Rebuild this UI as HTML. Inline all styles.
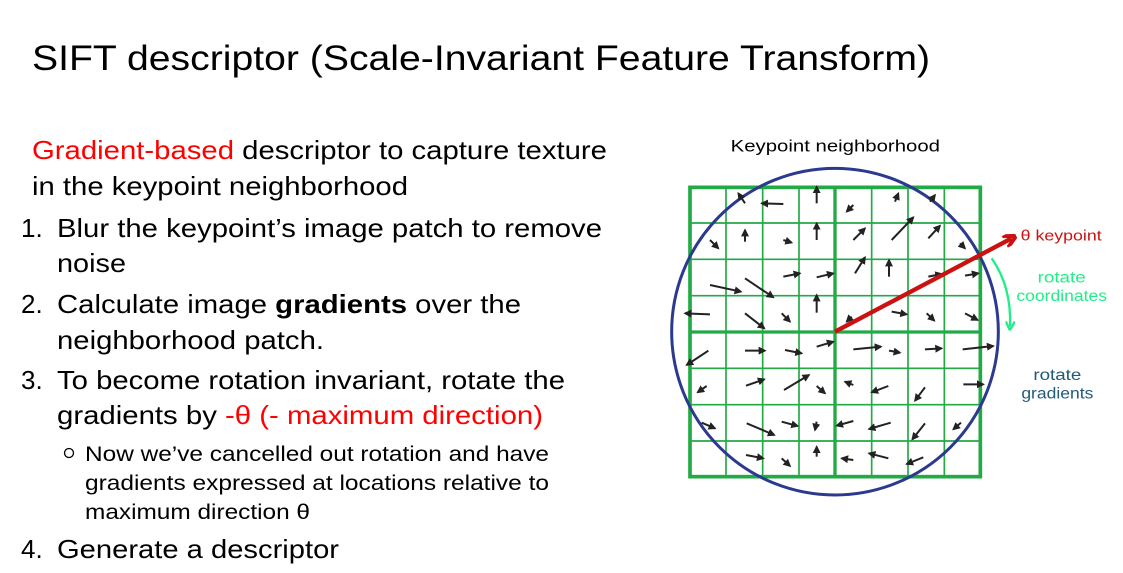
<!DOCTYPE html>
<html><head><meta charset="utf-8"><style>
html,body{margin:0;padding:0;background:#fff;width:1123px;height:573px;overflow:hidden}
svg{position:absolute;left:0;top:0}
text{font-family:"Liberation Sans",Arial,sans-serif}
</style></head><body>
<svg width="1123" height="573" viewBox="0 0 1123 573">
<text x="32" y="70" font-size="35" textLength="898" lengthAdjust="spacingAndGlyphs">SIFT descriptor (Scale-Invariant Feature Transform)</text>
<g font-size="26">
<text x="32" y="159" textLength="575" lengthAdjust="spacingAndGlyphs"><tspan fill="#ff0000">Gradient-based</tspan> descriptor to capture texture</text>
<text x="32" y="195" textLength="376" lengthAdjust="spacingAndGlyphs">in the keypoint neighborhood</text>
<text x="21" y="237">1.</text>
<text x="57" y="237" textLength="545" lengthAdjust="spacingAndGlyphs">Blur the keypoint’s image patch to remove</text>
<text x="57" y="272" textLength="69" lengthAdjust="spacingAndGlyphs">noise</text>
<text x="21" y="313">2.</text>
<text x="57" y="313" textLength="464" lengthAdjust="spacingAndGlyphs">Calculate image <tspan font-weight="bold">gradients</tspan> over the</text>
<text x="57" y="349" textLength="267" lengthAdjust="spacingAndGlyphs">neighborhood patch.</text>
<text x="21" y="389">3.</text>
<text x="57" y="389" textLength="508" lengthAdjust="spacingAndGlyphs">To become rotation invariant, rotate the</text>
<text x="57" y="424" textLength="486" lengthAdjust="spacingAndGlyphs">gradients by <tspan fill="#ff0000">-θ (- maximum direction)</tspan></text>
<text x="21" y="558">4.</text>
<text x="57" y="558" textLength="282" lengthAdjust="spacingAndGlyphs">Generate a descriptor</text>
</g>
<g font-size="21">
<circle cx="69" cy="453" r="4.5" fill="none" stroke="#000" stroke-width="1.3"/>
<text x="85" y="461" textLength="464" lengthAdjust="spacingAndGlyphs">Now we’ve cancelled out rotation and have</text>
<text x="85" y="490" textLength="464" lengthAdjust="spacingAndGlyphs">gradients expressed at locations relative to</text>
<text x="85" y="519" textLength="225" lengthAdjust="spacingAndGlyphs">maximum direction θ</text>
</g>
</svg>
<svg width="460" height="380" viewBox="0 0 1380 1140" style="left:665px;top:130px">
<defs>
<marker id="ah" viewBox="0 0 10 10" refX="8" refY="5" markerWidth="4" markerHeight="4" orient="auto" markerUnits="strokeWidth"><path d="M0,0 L10,5 L0,10 z" fill="#222"/></marker>
<marker id="rh" viewBox="0 0 10 10" refX="6" refY="5" markerWidth="3" markerHeight="3" orient="auto"><path d="M0,0 L10,5 L0,10" fill="none" stroke="#cc1111" stroke-width="3"/></marker>
<marker id="gh" viewBox="0 0 10 10" refX="6" refY="5" markerWidth="4" markerHeight="4" orient="auto"><path d="M0,0 L10,5 L0,10" fill="none" stroke="#22ee88" stroke-width="2.5"/></marker>
</defs>
<text x="197" y="65" font-size="51" textLength="628" lengthAdjust="spacingAndGlyphs" font-family="DejaVu Sans, sans-serif">Keypoint neighborhood</text>
<g stroke="#22aa44" fill="none">
<g stroke-width="5">
<path d="M183,172V1040M293,172V1040M402,172V1040M620,172V1040M729,172V1040M838,172V1040"/>
<path d="M75,279H946M75,388H946M75,497H946M75,715H946M75,824H946M75,933H946"/>
</g>
<rect x="75" y="172" width="871" height="868" stroke-width="11"/>
<path d="M510,172V1040M75,606H946" stroke-width="10"/>
</g>
<ellipse cx="510" cy="605" rx="490" ry="490" fill="none" stroke="#2b3a8e" stroke-width="9"/>
<g stroke="#222" stroke-width="6" marker-end="url(#ah)">
<line x1="240" y1="220" x2="220" y2="190"/><line x1="355" y1="222" x2="290" y2="220"/><line x1="455" y1="220" x2="455" y2="170"/><line x1="565" y1="225" x2="545" y2="245"/><line x1="690" y1="215" x2="700" y2="190"/><line x1="795" y1="215" x2="810" y2="195"/>
<line x1="135" y1="330" x2="160" y2="355"/><line x1="240" y1="335" x2="240" y2="300"/><line x1="355" y1="330" x2="380" y2="338"/><line x1="455" y1="330" x2="455" y2="280"/><line x1="565" y1="330" x2="600" y2="295"/><line x1="680" y1="330" x2="745" y2="262"/><line x1="790" y1="325" x2="825" y2="287"/><line x1="885" y1="340" x2="900" y2="355"/>
<line x1="355" y1="440" x2="405" y2="430"/><line x1="455" y1="442" x2="505" y2="430"/><line x1="570" y1="430" x2="600" y2="382"/><line x1="672" y1="440" x2="672" y2="390"/><line x1="135" y1="465" x2="228" y2="485"/><line x1="240" y1="445" x2="325" y2="502"/><line x1="790" y1="440" x2="830" y2="432"/><line x1="900" y1="437" x2="940" y2="430"/>
<line x1="135" y1="553" x2="60" y2="550"/><line x1="455" y1="548" x2="455" y2="495"/><line x1="240" y1="550" x2="298" y2="595"/><line x1="350" y1="550" x2="375" y2="575"/><line x1="560" y1="560" x2="545" y2="575"/><line x1="680" y1="545" x2="725" y2="553"/><line x1="785" y1="550" x2="808" y2="572"/><line x1="900" y1="550" x2="938" y2="570"/>
<line x1="130" y1="662" x2="65" y2="705"/><line x1="240" y1="662" x2="300" y2="662"/><line x1="360" y1="660" x2="410" y2="670"/><line x1="455" y1="650" x2="505" y2="635"/><line x1="565" y1="658" x2="648" y2="650"/><line x1="672" y1="662" x2="705" y2="668"/><line x1="780" y1="658" x2="830" y2="655"/><line x1="893" y1="658" x2="985" y2="648"/>
<line x1="125" y1="768" x2="98" y2="787"/><line x1="243" y1="767" x2="298" y2="748"/><line x1="357" y1="780" x2="432" y2="735"/><line x1="455" y1="768" x2="480" y2="790"/><line x1="565" y1="765" x2="540" y2="755"/><line x1="670" y1="768" x2="620" y2="787"/><line x1="780" y1="772" x2="750" y2="812"/><line x1="895" y1="763" x2="955" y2="763"/>
<line x1="110" y1="878" x2="150" y2="895"/><line x1="245" y1="880" x2="328" y2="915"/><line x1="350" y1="875" x2="398" y2="888"/><line x1="455" y1="875" x2="450" y2="900"/><line x1="565" y1="873" x2="515" y2="887"/><line x1="677" y1="878" x2="612" y2="897"/><line x1="780" y1="880" x2="742" y2="928"/><line x1="888" y1="878" x2="865" y2="898"/>
<line x1="243" y1="975" x2="295" y2="985"/><line x1="350" y1="985" x2="375" y2="1008"/><line x1="455" y1="980" x2="455" y2="950"/><line x1="565" y1="990" x2="530" y2="985"/><line x1="670" y1="985" x2="612" y2="970"/><line x1="775" y1="982" x2="725" y2="1002"/>
</g>
<path d="M510,605L1040,325" stroke="#cc1111" stroke-width="13" marker-end="url(#rh)"/>
<path d="M980,385Q1040,470 1035,590" fill="none" stroke="#22ee88" stroke-width="7" marker-end="url(#gh)"/>
<text x="1067" y="332" font-size="45" fill="#cc1111" font-family="DejaVu Sans, sans-serif" textLength="243" lengthAdjust="spacingAndGlyphs">θ keypoint</text>
<g font-size="46" fill="#22ee88" font-family="DejaVu Sans, sans-serif">
<text x="1118" y="457" textLength="144" lengthAdjust="spacingAndGlyphs">rotate</text><text x="1054" y="513" textLength="272" lengthAdjust="spacingAndGlyphs">coordinates</text>
</g>
<g font-size="46" fill="#1f5a78" font-family="DejaVu Sans, sans-serif">
<text x="1105" y="750" textLength="144" lengthAdjust="spacingAndGlyphs">rotate</text><text x="1069" y="806" textLength="216" lengthAdjust="spacingAndGlyphs">gradients</text>
</g>
</svg>
</body></html>
